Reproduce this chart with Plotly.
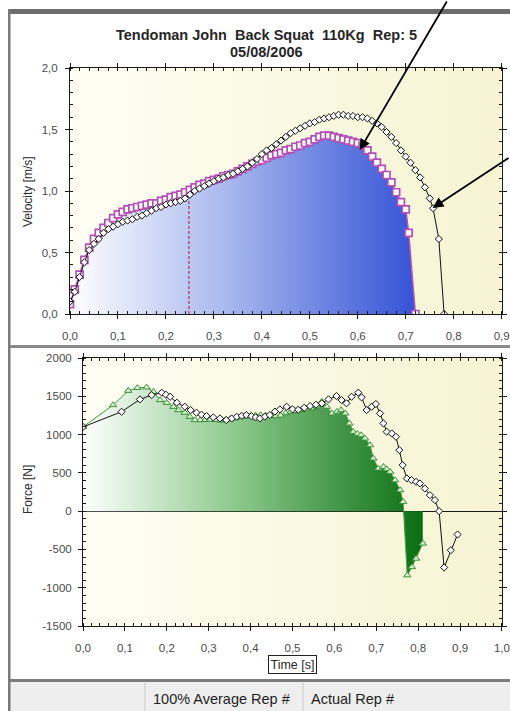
import base64
import plotly.graph_objects as go

W, H = 510, 711

# ---------------- data ----------------
title_line1 = "Tendoman John\u00a0\u00a0Back Squat\u00a0\u00a0110Kg\u00a0\u00a0Rep: 5"
title_line2 = "05/08/2006"

# Velocity, average rep (purple squares, blue filled)
avg_vel_t = [0.00, 0.01, 0.02, 0.03, 0.04, 0.05, 0.06, 0.07, 0.08, 0.09,
             0.10, 0.11, 0.12, 0.13, 0.14, 0.15, 0.16, 0.17, 0.18, 0.19,
             0.20, 0.21, 0.22, 0.23, 0.24, 0.25, 0.26, 0.27, 0.28, 0.29,
             0.30, 0.31, 0.32, 0.33, 0.34, 0.35, 0.36, 0.37, 0.38, 0.39,
             0.40, 0.41, 0.42, 0.43, 0.44, 0.45, 0.46, 0.47, 0.48, 0.49,
             0.50, 0.51, 0.52, 0.53, 0.54, 0.55, 0.56, 0.57, 0.58, 0.59,
             0.60, 0.61, 0.62, 0.63, 0.64, 0.65, 0.66, 0.67, 0.68, 0.69,
             0.70, 0.706, 0.72]
avg_vel_v = [0.08, 0.20, 0.32, 0.44, 0.54, 0.61, 0.66, 0.70, 0.74, 0.78,
             0.81, 0.83, 0.85, 0.86, 0.87, 0.88, 0.89, 0.90, 0.90, 0.92,
             0.93, 0.95, 0.96, 0.97, 0.99, 1.01, 1.03, 1.05, 1.06, 1.08,
             1.09, 1.10, 1.12, 1.13, 1.14, 1.16, 1.18, 1.20, 1.22, 1.24,
             1.25, 1.27, 1.29, 1.30, 1.31, 1.33, 1.34, 1.36, 1.37, 1.39,
             1.40, 1.42, 1.44, 1.45, 1.45, 1.44, 1.43, 1.42, 1.41, 1.40,
             1.39, 1.37, 1.33, 1.28, 1.23, 1.18, 1.13, 1.07, 0.99, 0.91,
             0.85, 0.66, 0.00]

# Velocity, actual rep (black diamonds)
act_vel_t = [0.00, 0.01, 0.02, 0.03, 0.04, 0.05, 0.06, 0.07, 0.08, 0.09,
             0.10, 0.11, 0.12, 0.13, 0.14, 0.15, 0.16, 0.17, 0.18, 0.19,
             0.20, 0.21, 0.22, 0.23, 0.24, 0.25, 0.26, 0.27, 0.28, 0.29,
             0.30, 0.31, 0.32, 0.33, 0.34, 0.35, 0.36, 0.37, 0.38, 0.39,
             0.40, 0.41, 0.42, 0.43, 0.44, 0.45, 0.46, 0.47, 0.48, 0.49,
             0.50, 0.51, 0.52, 0.53, 0.54, 0.55, 0.56, 0.57, 0.58, 0.59,
             0.60, 0.61, 0.62, 0.63, 0.64, 0.65, 0.66, 0.67, 0.68, 0.69,
             0.70, 0.71, 0.72, 0.73, 0.74, 0.75, 0.757, 0.769, 0.78]
act_vel_v = [0.10, 0.18, 0.30, 0.42, 0.52, 0.57, 0.61, 0.66, 0.69, 0.71,
             0.73, 0.75, 0.76, 0.77, 0.79, 0.80, 0.82, 0.84, 0.86, 0.87,
             0.89, 0.90, 0.91, 0.92, 0.94, 0.97, 1.00, 1.02, 1.04, 1.06,
             1.08, 1.10, 1.11, 1.13, 1.14, 1.16, 1.18, 1.20, 1.23, 1.26,
             1.30, 1.33, 1.35, 1.38, 1.41, 1.44, 1.47, 1.49, 1.51, 1.53,
             1.55, 1.56, 1.58, 1.59, 1.60, 1.61, 1.62, 1.62, 1.61, 1.61,
             1.60, 1.60, 1.59, 1.57, 1.55, 1.52, 1.48, 1.44, 1.39, 1.33,
             1.28, 1.23, 1.17, 1.11, 1.03, 0.94, 0.86, 0.61, 0.00]

split_time = 0.248
split_velocity = 0.93

# Force, average rep (green triangles, green filled)
avg_force_t = [0.000, 0.072, 0.108, 0.130, 0.152, 0.168, 0.184, 0.200, 0.216, 0.228,
               0.243, 0.255, 0.267, 0.280, 0.292, 0.304, 0.316, 0.328, 0.340, 0.352,
               0.364, 0.376, 0.388, 0.400, 0.412, 0.424, 0.436, 0.448, 0.460, 0.472,
               0.484, 0.496, 0.508, 0.520, 0.532, 0.545, 0.558, 0.570, 0.582, 0.594,
               0.606, 0.616, 0.626, 0.636, 0.645, 0.655, 0.664, 0.673, 0.685, 0.693,
               0.705, 0.717, 0.725, 0.733, 0.745, 0.757, 0.764, 0.774, 0.785, 0.795,
               0.811]
avg_force_f = [1100, 1386, 1573, 1610, 1617, 1560, 1451, 1416, 1364, 1320,
               1285, 1233, 1190, 1190, 1192, 1195, 1192, 1185, 1190, 1205,
               1220, 1233, 1240, 1245, 1250, 1255, 1250, 1245, 1242, 1250,
               1280, 1300, 1310, 1320, 1330, 1345, 1370, 1429, 1364, 1277,
               1300, 1320, 1277, 1146, 1037, 1010, 993, 950, 863, 689,
               558, 579, 550, 514, 405, 275, 122, -837, -730, -619,
               -423]

# Force, actual rep (black diamonds)
act_force_t = [0.000, 0.092, 0.136, 0.164, 0.188, 0.198, 0.208, 0.224, 0.243, 0.257,
               0.271, 0.283, 0.295, 0.311, 0.327, 0.342, 0.355, 0.367, 0.379, 0.390,
               0.402, 0.412, 0.422, 0.434, 0.446, 0.458, 0.470, 0.486, 0.500, 0.514,
               0.528, 0.542, 0.556, 0.570, 0.586, 0.605, 0.617, 0.629, 0.641, 0.657,
               0.665, 0.677, 0.689, 0.699, 0.709, 0.717, 0.725, 0.737, 0.747, 0.755,
               0.763, 0.773, 0.784, 0.795, 0.804, 0.816, 0.828, 0.840, 0.850, 0.862,
               0.878, 0.894]
act_force_f = [1100, 1298, 1460, 1516, 1547, 1520, 1494, 1416, 1364, 1320,
               1285, 1260, 1242, 1225, 1211, 1190, 1210, 1233, 1245, 1255,
               1240, 1225, 1211, 1235, 1255, 1300, 1329, 1364, 1330, 1325,
               1350, 1373, 1390, 1408, 1460, 1503, 1451, 1408, 1494, 1547,
               1486, 1320, 1364, 1399, 1277, 1146, 1037, 1015, 971, 797,
               601, 427, 405, 383, 362, 296, 209, 144, 0, -736,
               -510, -305]

vel_tick_vals = [0.0, 0.5, 1.0, 1.5, 2.0]
vel_tick_text = ["0,0", "0,5", "1,0", "1,5", "2,0"]
force_tick_vals = [-1500, -1000, -500, 0, 500, 1000, 1500, 2000]
force_tick_text = ["-1500", "-1000", "-500", "0", "500", "1000", "1500", "2000"]

status_labels = ["100% Average Rep #", "Actual Rep #"]

# ---------------- layout geometry (window pixels) ----------------
def px_x(p):
    return p / W

def px_y(p):
    return 1 - p / H

top_dom_x = [px_x(70), px_x(501.7)]
top_dom_y = [px_y(314), px_y(68)]
bot_dom_x = [px_x(83), px_x(502)]
bot_dom_y = [px_y(626), px_y(358)]

FONT = "Liberation Sans, Arial, sans-serif"
AX = "#1a1a1a"

fig = go.Figure()

# --- velocity chart ---
fig.add_trace(go.Scatter(
    x=avg_vel_t, y=avg_vel_v, xaxis="x", yaxis="y",
    mode="lines+markers", fill="tozeroy",
    fillgradient=dict(type="horizontal",
                      colorscale=[[0, "rgba(255,255,255,1)"], [0.45, "#a9b9ee"], [1, "#3553d6"]]),
    line=dict(color="#b24fb5", width=1.6),
    marker=dict(symbol="square", size=7, color="white", line=dict(color="#b24fb5", width=1.7)),
    showlegend=False, hoverinfo="skip"))

fig.add_trace(go.Scatter(
    x=[split_time, split_time], y=[0, split_velocity], xaxis="x", yaxis="y",
    mode="lines", line=dict(color="#b0204a", width=1.1, dash="3px,2px"),
    showlegend=False, hoverinfo="skip"))

fig.add_trace(go.Scatter(
    x=act_vel_t, y=act_vel_v, xaxis="x", yaxis="y",
    mode="lines+markers",
    line=dict(color="#111111", width=1),
    marker=dict(symbol="diamond", size=5.5, color="white", line=dict(color="#111111", width=1)),
    showlegend=False, hoverinfo="skip"))

# --- force chart ---
fig.add_trace(go.Scatter(
    x=avg_force_t, y=avg_force_f, xaxis="x2", yaxis="y2",
    mode="lines+markers", fill="tozeroy",
    fillgradient=dict(type="horizontal",
                      colorscale=[[0, "rgba(255,255,255,1)"], [0.45, "#8cc98c"], [1, "#0b6e12"]]),
    line=dict(color="#3f9a3f", width=1),
    marker=dict(symbol="triangle-up", size=6.5, color="#d8f2d0", line=dict(color="#3a8f3a", width=1)),
    showlegend=False, hoverinfo="skip"))

fig.add_trace(go.Scatter(
    x=act_force_t, y=act_force_f, xaxis="x2", yaxis="y2",
    mode="lines+markers",
    line=dict(color="#111111", width=1),
    marker=dict(symbol="diamond", size=5.5, color="white", line=dict(color="#111111", width=1)),
    showlegend=False, hoverinfo="skip"))

tickfont = dict(family=FONT, size=11.5, color="#4a4a4a")

def xaxis_common(dom, anchor, rng):
    return dict(domain=dom, anchor=anchor, range=rng, dtick=0.1, tick0=0, tickformat=".1f",
                showgrid=False, zeroline=False, showline=True, linecolor=AX, linewidth=1,
                mirror="ticks", ticks="outside", ticklen=4, tickcolor=AX, tickwidth=1,
                minor=dict(dtick=0.02, ticks="inside", ticklen=3, tickcolor=AX, tickwidth=1),
                tickfont=tickfont, ticklabeloverflow="allow", ticklabelstandoff=7,
                fixedrange=True, automargin=False)

layout = dict(
    width=W, height=H, margin=dict(l=0, r=0, t=0, b=0),
    paper_bgcolor="white", plot_bgcolor="rgba(0,0,0,0)",
    separators=", ", showlegend=False,
    font=dict(family=FONT),
    xaxis=xaxis_common(top_dom_x, "y", [0, 0.9001]),
    xaxis2=xaxis_common(bot_dom_x, "y2", [0, 1.0001]),
    yaxis=dict(domain=top_dom_y, anchor="x", range=[0, 2.0001],
               tickmode="array", tickvals=vel_tick_vals, ticktext=vel_tick_text,
               showgrid=False, zeroline=False, showline=True, linecolor=AX, linewidth=1,
               mirror="ticks", ticks="outside", ticklen=4, tickcolor=AX,
               minor=dict(dtick=0.1, tick0=0, ticks="inside", ticklen=3, tickcolor=AX),
               tickfont=tickfont, ticklabelstandoff=5, fixedrange=True, automargin=False),
    yaxis2=dict(domain=bot_dom_y, anchor="x2", range=[-1500, 2000.1],
                tickmode="array", tickvals=force_tick_vals, ticktext=force_tick_text,
                showgrid=False, zeroline=True, zerolinecolor=AX, zerolinewidth=1.2,
                showline=True, linecolor=AX, linewidth=1,
                mirror="ticks", ticks="outside", ticklen=4, tickcolor=AX,
                minor=dict(dtick=100, tick0=0, ticks="inside", ticklen=3, tickcolor=AX),
                tickfont=tickfont, ticklabelstandoff=4, fixedrange=True, automargin=False),
)

# background gradient image behind both plot areas
svg = ('<svg xmlns="http://www.w3.org/2000/svg" width="200" height="100" viewBox="0 0 200 100" '
       'preserveAspectRatio="none"><defs><linearGradient id="g" x1="0" y1="0" x2="1" y2="0">'
       '<stop offset="0" stop-color="#fefef4"/><stop offset="1" stop-color="#f6f4d2"/>'
       '</linearGradient></defs><rect width="200" height="100" fill="url(#g)"/></svg>')
src = "data:image/svg+xml;base64," + base64.b64encode(svg.encode()).decode()
images = []
for dx, dy in [(top_dom_x, top_dom_y), (bot_dom_x, bot_dom_y)]:
    images.append(dict(source=src, xref="paper", yref="paper", x=dx[0], y=dy[1],
                       sizex=dx[1] - dx[0], sizey=dy[1] - dy[0], sizing="stretch",
                       xanchor="left", yanchor="top", layer="below"))
layout["images"] = images

# window frame decoration
def rect(x0, y0, x1, y1, color):
    return dict(type="rect", xref="paper", yref="paper", x0=px_x(x0), x1=px_x(x1),
                y0=px_y(y1), y1=px_y(y0), fillcolor=color, line=dict(width=0), layer="below")

def vline(x, y0, y1, color, w=1):
    return dict(type="line", xref="paper", yref="paper", x0=px_x(x), x1=px_x(x),
                y0=px_y(y1), y1=px_y(y0), line=dict(color=color, width=w), layer="below")

shapes = [
    rect(8, 682, W + 2, H + 2, "#eeeeee"),
    rect(8, 9, W + 2, 14, "#6d6d6d"),
    rect(8, 9, 10.5, H + 2, "#7a7a7a"),
    rect(10, 345, W + 2, 348, "#8a8a8a"),
    rect(10, 679, W + 2, 682, "#7c7c7c"),
    vline(145, 683, H + 2, "#c9c9c9"),
    vline(303, 683, H + 2, "#c9c9c9"),
]
layout["shapes"] = shapes

ann = []
ann.append(dict(text="<b>" + title_line1 + "</b>", x=px_x(266), y=px_y(35), xref="paper", yref="paper",
                showarrow=False, font=dict(family=FONT, size=14.5, color="#262626"),
                xanchor="center", yanchor="middle"))
ann.append(dict(text="<b>" + title_line2 + "</b>", x=px_x(266), y=px_y(51.5), xref="paper", yref="paper",
                showarrow=False, font=dict(family=FONT, size=14.5, color="#262626"),
                xanchor="center", yanchor="middle"))
ann.append(dict(text="Velocity [m/s]", x=px_x(28), y=px_y(192), xref="paper", yref="paper",
                textangle=-90, showarrow=False, font=dict(family=FONT, size=12, color="#2a2a2a"),
                xanchor="center", yanchor="middle"))
ann.append(dict(text="Force [N]", x=px_x(28), y=px_y(490), xref="paper", yref="paper",
                textangle=-90, showarrow=False, font=dict(family=FONT, size=12, color="#2a2a2a"),
                xanchor="center", yanchor="middle"))
ann.append(dict(text="Time [s]", x=px_x(292.5), y=px_y(664), xref="paper", yref="paper",
                showarrow=False, font=dict(family=FONT, size=12.5, color="#2a2a2a"),
                bordercolor="#222222", borderwidth=1, borderpad=1.5,
                xanchor="center", yanchor="middle"))
ann.append(dict(text=status_labels[0], x=px_x(151), y=px_y(699), xref="paper", yref="paper",
                showarrow=False, font=dict(family=FONT, size=14.5, color="#1e1e1e"),
                xanchor="left", yanchor="middle"))
ann.append(dict(text=status_labels[1], x=px_x(309), y=px_y(699), xref="paper", yref="paper",
                showarrow=False, font=dict(family=FONT, size=14.5, color="#1e1e1e"),
                xanchor="left", yanchor="middle"))
# pointer arrows
ann.append(dict(text="", x=0.604, y=1.333, xref="x", yref="y", axref="pixel", ayref="pixel",
                ax=88, ay=-160, showarrow=True, arrowhead=2, arrowsize=1.2, arrowwidth=1.8,
                arrowcolor="black"))
ann.append(dict(text="", x=0.756, y=0.862, xref="x", yref="y", axref="pixel", ayref="pixel",
                ax=80, ay=-51, showarrow=True, arrowhead=2, arrowsize=1.2, arrowwidth=1.8,
                arrowcolor="black"))
layout["annotations"] = ann

fig.update_layout(**layout)
fig.write_html("out.html", config=dict(displayModeBar=False, staticPlot=True),
               post_script="document.body.style.margin='0';document.body.style.overflow='hidden';")
